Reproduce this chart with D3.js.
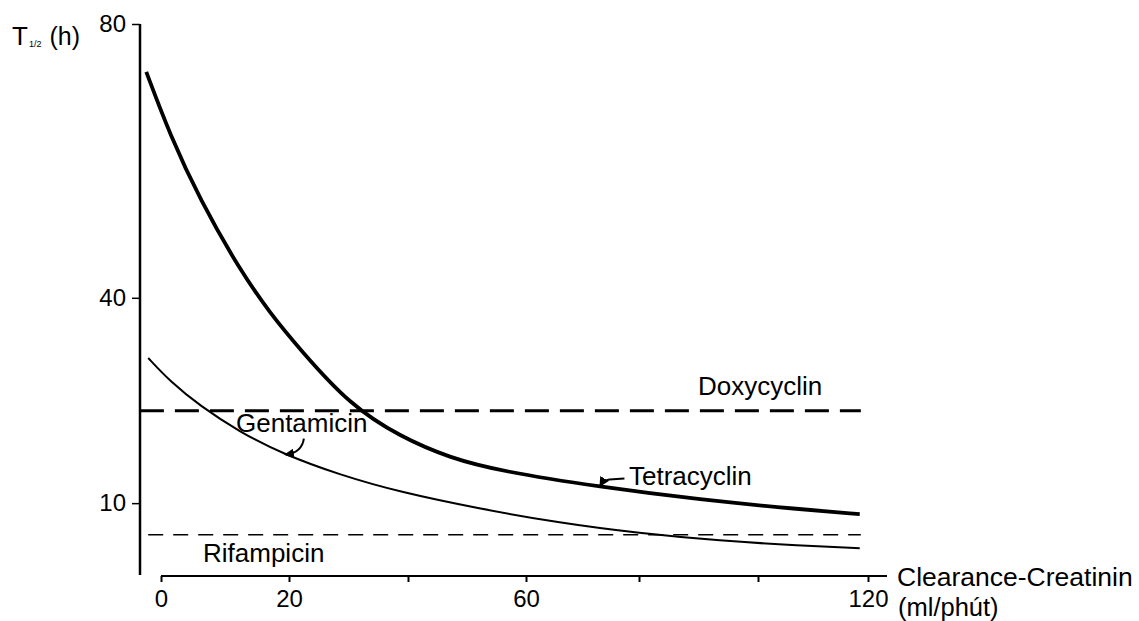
<!DOCTYPE html>
<html>
<head>
<meta charset="utf-8">
<script src="https://cdn.jsdelivr.net/npm/d3@7"></script>
<style>
  body { margin: 0; background: #fff; }
  text { font-family: "Liberation Sans", Arial, sans-serif; fill: #000; }
</style>
</head>
<body>
<svg id="chart" width="1139" height="621"></svg>
<script>
// clearance-creatinin (ml/phut) and half-life T1/2 (h)
const tetraX = [-2.3, 1.4, 6.1, 12.3, 17, 21.9, 30.3, 38.7, 47.1, 55.6, 73.1, 90.3, 107.6, 118.5];
const tetraT = [73, 63.8, 54.3, 44.1, 37.8, 32.4, 24.3, 19.7, 16.6, 14.7, 12.35, 10.5, 9.1, 8.4];

const gentaX = [-2, 1.4, 6.1, 12.3, 19, 28.6, 38.7, 52, 66, 80, 93.6, 107.6, 118.5];
const gentaT = [31.2, 27.8, 24.2, 20.4, 17.2, 14.1, 11.6, 9.2, 7.1, 5.6, 4.5, 3.8, 3.4];

const doxyT = 23.5;
const doxyX = [-3.3, 118.7];
const rifaT = 5.4;
const rifaX = [-2, 118.7];

const xTicks = [0, 20, 40, 60, 80, 100, 120];
const xTickLabels = ['0', '20', '', '60', '', '', '120'];
const yTicks = [10, 40, 80];

const svg = d3.select('#chart');

// the scanned axis is not quite even, so the x scale is piecewise
const x = d3.scaleLinear()
    .domain(xTicks)
    .range([161, 289, 408, 526, 639, 758, 868]);
const y = d3.scaleLinear().domain([0, 80]).range([571.6, 24]);

// y axis
svg.append('line')
    .attr('x1', 140).attr('x2', 140)
    .attr('y1', y(80)).attr('y2', 575)
    .attr('stroke', '#000').attr('stroke-width', 2.5);

const yAxis = svg.append('g')
    .attr('transform', 'translate(140,0)')
    .call(d3.axisLeft(y).tickValues(yTicks).tickSize(8).tickPadding(6).tickFormat(d3.format('d')));
yAxis.select('.domain').remove();
yAxis.selectAll('line').attr('stroke', '#000').attr('stroke-width', 1.5);
yAxis.selectAll('text').attr('font-size', 24).style('font-family', '"Liberation Sans", Arial, sans-serif');

// x axis
svg.append('line')
    .attr('x1', x(0)).attr('x2', 887)
    .attr('y1', 576).attr('y2', 576)
    .attr('stroke', '#000').attr('stroke-width', 2);

const xAxis = svg.append('g')
    .attr('transform', 'translate(0,576)')
    .call(d3.axisBottom(x).tickValues(xTicks).tickSize(6).tickPadding(8)
        .tickFormat((d, i) => xTickLabels[i]));
xAxis.select('.domain').remove();
xAxis.selectAll('line').attr('stroke', '#000').attr('stroke-width', 2);
xAxis.selectAll('text').attr('font-size', 24).style('font-family', '"Liberation Sans", Arial, sans-serif');

// axis titles
const yTitle = svg.append('text').attr('x', 12).attr('y', 45).attr('font-size', 26);
yTitle.append('tspan').text('T');
yTitle.append('tspan').attr('font-size', 9).attr('dx', 1).attr('dy', 2).text('1/2');
yTitle.append('tspan').attr('dx', 8).attr('dy', -2).attr('font-size', 25).text('(h)');

svg.append('text').attr('x', 897).attr('y', 586).attr('font-size', 26.5).text('Clearance-Creatinin');
svg.append('text').attr('x', 898).attr('y', 616).attr('font-size', 25.5).text('(ml/phút)');

// reference lines
const line = d3.line().x(d => x(d[0])).y(d => y(d[1]));

svg.append('path')
    .attr('d', line(doxyX.map(v => [v, doxyT])))
    .attr('fill', 'none').attr('stroke', '#000')
    .attr('stroke-width', 3).attr('stroke-dasharray', '24 11');

svg.append('path')
    .attr('d', line(rifaX.map(v => [v, rifaT])))
    .attr('fill', 'none').attr('stroke', '#000')
    .attr('stroke-width', 1.5).attr('stroke-dasharray', '15 10');

// curves
const curve = d3.line().x(d => x(d[0])).y(d => y(d[1])).curve(d3.curveBasis);

svg.append('path')
    .attr('d', curve(tetraX.map((v, i) => [v, tetraT[i]])))
    .attr('fill', 'none').attr('stroke', '#000').attr('stroke-width', 3.8);

svg.append('path')
    .attr('d', curve(gentaX.map((v, i) => [v, gentaT[i]])))
    .attr('fill', 'none').attr('stroke', '#000').attr('stroke-width', 2);

// labels
svg.append('text').attr('x', 698).attr('y', 395).attr('font-size', 26).text('Doxycyclin');
svg.append('text').attr('x', 203).attr('y', 562).attr('font-size', 26).text('Rifampicin');
svg.append('text').attr('x', 236).attr('y', 432).attr('font-size', 26).text('Gentamicin');
svg.append('text').attr('x', 629).attr('y', 485).attr('font-size', 26).text('Tetracyclin');

// little arrows from labels to curves
svg.append('defs').append('marker')
    .attr('id', 'head').attr('viewBox', '0 0 10 10')
    .attr('refX', 8).attr('refY', 5)
    .attr('markerWidth', 5).attr('markerHeight', 5)
    .attr('orient', 'auto')
  .append('path').attr('d', 'M0,0L10,5L0,10z').attr('fill', '#000');

const gx = x(19.2), gy = y(17.1);
svg.append('path')
    .attr('d', `M${gx + 20},${gy - 16} Q${gx + 18},${gy - 2} ${gx + 2},${gy}`)
    .attr('fill', 'none').attr('stroke', '#000').attr('stroke-width', 2)
    .attr('marker-end', 'url(#head)');

const tx = x(73), ty = y(12.3);
svg.append('path')
    .attr('d', `M${tx + 25},${ty - 9} L${tx + 10},${ty - 8} Q${tx + 4},${ty - 7} ${tx + 1},${ty - 2}`)
    .attr('fill', 'none').attr('stroke', '#000').attr('stroke-width', 2)
    .attr('marker-end', 'url(#head)');
</script>
</body>
</html>
